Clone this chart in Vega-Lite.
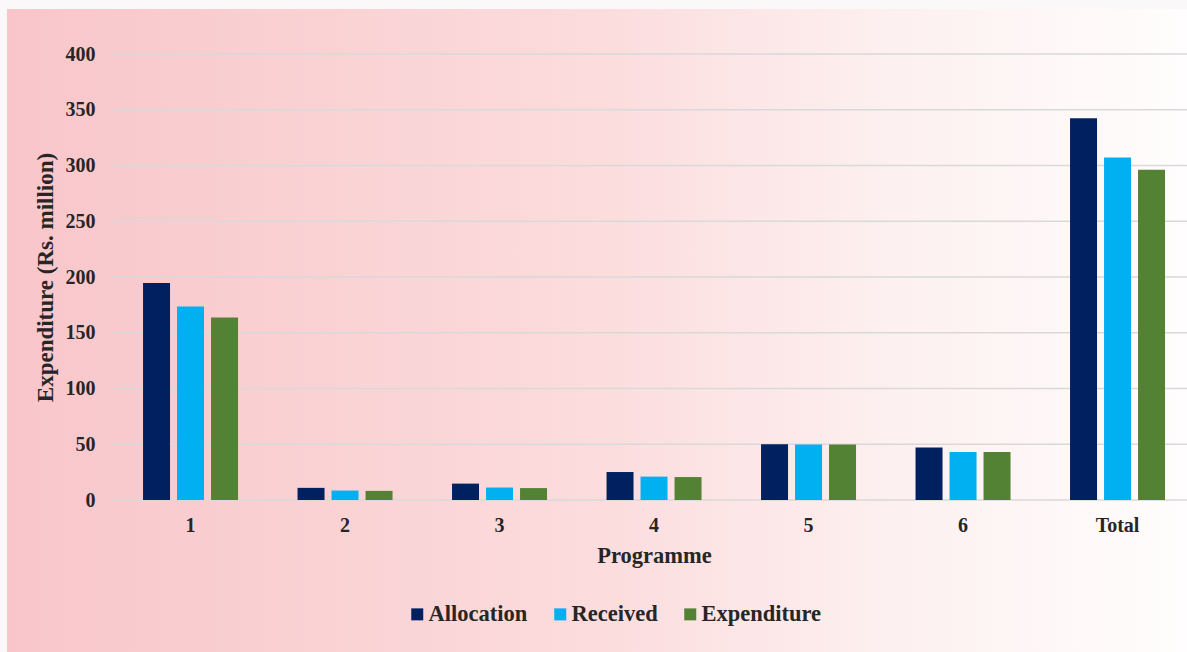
{
  "$schema": "https://vega.github.io/schema/vega-lite/v6.json",
  "width": 1180,
  "height": 643,
  "autosize": {"type": "none"},
  "padding": {"left": 7, "top": 9, "right": 0, "bottom": 0},
  "background": "#faf8f9",
  "datasets": {
    "bars": [
      {"Programme": "1", "Measure": "Allocation", "value": 194.7},
      {"Programme": "1", "Measure": "Received", "value": 173.5},
      {"Programme": "1", "Measure": "Expenditure", "value": 163.6},
      {"Programme": "2", "Measure": "Allocation", "value": 10.9},
      {"Programme": "2", "Measure": "Received", "value": 8.5},
      {"Programme": "2", "Measure": "Expenditure", "value": 8.2},
      {"Programme": "3", "Measure": "Allocation", "value": 14.7},
      {"Programme": "3", "Measure": "Received", "value": 11.2},
      {"Programme": "3", "Measure": "Expenditure", "value": 10.7},
      {"Programme": "4", "Measure": "Allocation", "value": 25.1},
      {"Programme": "4", "Measure": "Received", "value": 21.0},
      {"Programme": "4", "Measure": "Expenditure", "value": 20.6},
      {"Programme": "5", "Measure": "Allocation", "value": 50.0},
      {"Programme": "5", "Measure": "Received", "value": 49.9},
      {"Programme": "5", "Measure": "Expenditure", "value": 49.8},
      {"Programme": "6", "Measure": "Allocation", "value": 47.0},
      {"Programme": "6", "Measure": "Received", "value": 43.0},
      {"Programme": "6", "Measure": "Expenditure", "value": 43.0},
      {"Programme": "Total", "Measure": "Allocation", "value": 342.4},
      {"Programme": "Total", "Measure": "Received", "value": 307.1},
      {"Programme": "Total", "Measure": "Expenditure", "value": 296.1}
    ],
    "grid": [
      {"value": 0}, {"value": 50}, {"value": 100}, {"value": 150}, {"value": 200},
      {"value": 250}, {"value": 300}, {"value": 350}, {"value": 400}
    ]
  },
  "encoding": {
    "y": {
      "field": "value",
      "type": "quantitative",
      "scale": {"domain": [-136.3, 440.36], "nice": false, "zero": false},
      "axis": {
        "title": "Expenditure (Rs. million)",
        "orient": "left",
        "offset": -93,
        "values": [0, 50, 100, 150, 200, 250, 300, 350, 400],
        "grid": false,
        "domain": false,
        "ticks": false,
        "tickSize": 0,
        "labelPadding": 5,
        "labelFont": "Liberation Serif",
        "labelFontWeight": "bold",
        "labelFontSize": 20,
        "labelColor": "#262626",
        "titleFont": "Liberation Serif",
        "titleFontWeight": "bold",
        "titleFontSize": 23,
        "titleColor": "#262626",
        "titlePadding": 8,
        "titleY": 268
      }
    }
  },
  "layer": [
    {
      "data": {"name": "grid"},
      "mark": {"type": "rule", "color": "#d9d9d9", "strokeWidth": 1.5},
      "encoding": {
        "x": {
          "datum": "1",
          "type": "nominal",
          "bandPosition": -0.316,
          "scale": {"type": "band"},
          "axis": {
            "title": "Programme",
            "orient": "bottom",
            "offset": -152,
            "domain": false,
            "ticks": false,
            "tickSize": 0,
            "grid": false,
            "labelAngle": 0,
            "labelPadding": 15.5,
            "labelFont": "Liberation Serif",
            "labelFontWeight": "bold",
            "labelFontSize": 20,
            "labelColor": "#262626",
            "titleFont": "Liberation Serif",
            "titleFontWeight": "bold",
            "titleFontSize": 22.5,
            "titleColor": "#262626",
            "titlePadding": 9,
            "titleX": 647
          }
        },
        "x2": {"value": "width"}
      }
    },
    {
      "data": {"name": "bars"},
      "mark": {"type": "bar"},
      "encoding": {
        "x": {
          "field": "Programme",
          "type": "nominal",
          "scale": {
            "type": "band",
            "domain": ["1", "2", "3", "4", "5", "6", "Total"],
            "paddingInner": 0.3851,
            "paddingOuter": 0.5113,
            "align": 0.861
          },
          "axis": {
            "title": "Programme",
            "orient": "bottom",
            "offset": -152,
            "domain": false,
            "ticks": false,
            "tickSize": 0,
            "grid": false,
            "labelAngle": 0,
            "labelPadding": 15.5,
            "labelFont": "Liberation Serif",
            "labelFontWeight": "bold",
            "labelFontSize": 20,
            "labelColor": "#262626",
            "titleFont": "Liberation Serif",
            "titleFontWeight": "bold",
            "titleFontSize": 22.5,
            "titleColor": "#262626",
            "titlePadding": 9,
            "titleX": 647
          }
        },
        "xOffset": {
          "field": "Measure",
          "type": "nominal",
          "scale": {"domain": ["Allocation", "Received", "Expenditure"], "paddingInner": 0.206, "paddingOuter": 0}
        },
        "y2": {"datum": 0},
        "color": {
          "field": "Measure",
          "type": "nominal",
          "scale": {
            "domain": ["Allocation", "Received", "Expenditure"],
            "range": ["#002060", "#00b0f0", "#548235"]
          },
          "legend": {
            "orient": "none",
            "legendX": 399,
            "legendY": 594,
            "direction": "horizontal",
            "title": null,
            "padding": 0,
            "symbolType": "square",
            "symbolSize": 144,
            "symbolStrokeWidth": 0,
            "labelFont": "Liberation Serif",
            "labelFontWeight": "bold",
            "labelFontSize": 22.5,
            "labelColor": "#262626",
            "labelOffset": 0,
            "columnPadding": 21
          }
        }
      }
    }
  ],
  "config": {
    "font": "Liberation Serif",
    "view": {
      "stroke": null,
      "fill": {
        "gradient": "linear",
        "x1": 0, "y1": 0, "x2": 1, "y2": 0,
        "stops": [
          {"offset": 0, "color": "#f8c6ca"},
          {"offset": 0.3, "color": "#fad3d5"},
          {"offset": 0.5, "color": "#fcdcdd"},
          {"offset": 0.75, "color": "#fdf0f0"},
          {"offset": 1, "color": "#fffdfd"}
        ]
      }
    }
  }
}
